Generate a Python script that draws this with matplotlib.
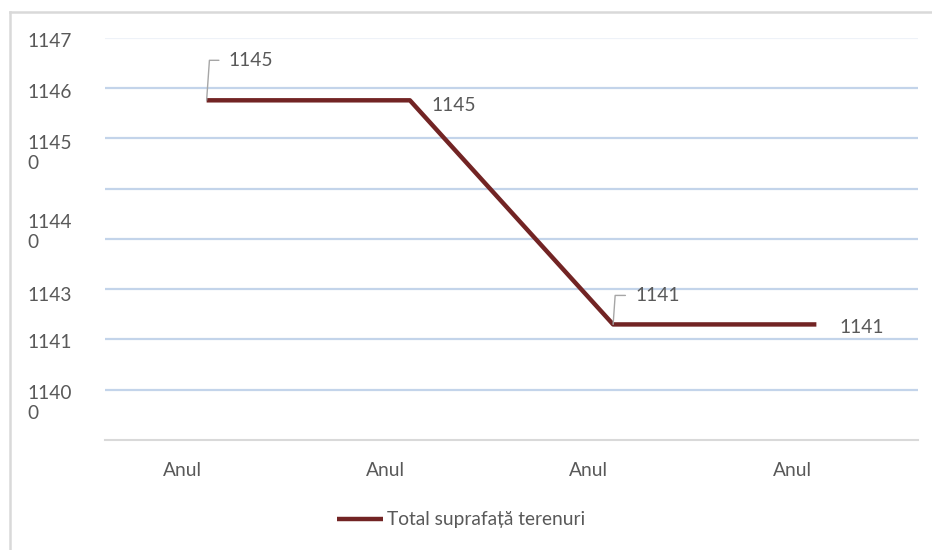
import matplotlib.pyplot as plt
from matplotlib.lines import Line2D
from matplotlib.transforms import blended_transform_factory

plt.rcParams['font.family'] = ['Lato', 'DejaVu Sans']

# data
categories = ['Anul', 'Anul', 'Anul', 'Anul']
values = [11457.6, 11457.6, 11413.0, 11413.0]
data_labels = ['1145', '1145', '1141', '1141']
series_name = 'Total suprafață terenuri'

# y axis (labels as shown, they are wrapped/cut in the source)
grid_values = list(range(11390, 11471, 10))
ytick_labels = ['1147', '1146', '1145\n0', '1144\n0', '1143', '1141', '1140\n0']
ytick_pos = [11469.4, 11459.2, 11447.0, 11431.3, 11418.7, 11409.5, 11397.3]

text_color = '#595959'
line_color = '#722424'
fs = 13.8

fig = plt.figure(figsize=(9.32, 5.5), dpi=100)
ax = fig.add_axes([105 / 932, 1 - 440 / 550, (918 - 105) / 932, (440 - 38) / 550])

x = list(range(len(categories)))
ax.plot(x, values, color=line_color, lw=3.2, solid_capstyle='butt', zorder=3,
        label=series_name)

ax.set_xlim(-0.5, len(categories) - 0.5)
ax.set_ylim(grid_values[0], grid_values[-1])

# gridlines
for g in grid_values[1:]:
    c = '#EEF2F8' if g == grid_values[-1] else '#C3D4EA'
    ax.axhline(g, color=c, lw=1.6, zorder=1)

for s in ax.spines.values():
    s.set_visible(False)
ax.axhline(grid_values[0], color='#D9D9D9', lw=1.5, zorder=2, clip_on=False)
ax.set_xticks([])
ax.set_yticks([])

# y labels
ytr = blended_transform_factory(fig.transFigure, ax.transData)
for lab, pos in zip(ytick_labels, ytick_pos):
    ax.text(27 / 932, pos, lab, transform=ytr, ha='left', va='center',
            fontsize=fs, color=text_color, linespacing=1.2)

# category labels (shifted left like in the source)
xtr = blended_transform_factory(ax.transData, fig.transFigure)
for i, lab in enumerate(categories):
    ax.text(i - 0.12, 1 - 470 / 550, lab, transform=xtr, ha='center', va='center',
            fontsize=fs, color=text_color)

# data labels
offsets = [(22, 40), (22, -5), (22, 29), (23, -3)]
leaders = [True, False, True, False]
for i, (v, lab) in enumerate(zip(values, data_labels)):
    dx, dy = offsets[i]
    if leaders[i]:
        ax.annotate(lab, xy=(i, v), xytext=(dx, dy), textcoords='offset pixels',
                    ha='left', va='center', fontsize=fs, color=text_color,
                    arrowprops=dict(arrowstyle='-', color='#A6A6A6', lw=1,
                                    connectionstyle='angle,angleA=0,angleB=86,rad=0',
                                    shrinkA=5, shrinkB=0, relpos=(0, 0.5)))
    else:
        ax.annotate(lab, xy=(i, v), xytext=(dx, dy), textcoords='offset pixels',
                    ha='left', va='center', fontsize=fs, color=text_color)

leg = fig.legend(loc='center', bbox_to_anchor=(461 / 932, 1 - 520 / 550), frameon=False,
                 fontsize=fs, handlelength=2.4, handletextpad=0.2, labelcolor=text_color)

# chart frame (top and left edges visible)
fig.add_artist(Line2D([10 / 932, 10 / 932], [0, 1 - 12 / 550], transform=fig.transFigure,
                      color='#D9D9D9', lw=1.8))
fig.add_artist(Line2D([10 / 932, 1], [1 - 12 / 550, 1 - 12 / 550], transform=fig.transFigure,
                      color='#D9D9D9', lw=1.8))

fig.savefig('out.png', dpi=100)
